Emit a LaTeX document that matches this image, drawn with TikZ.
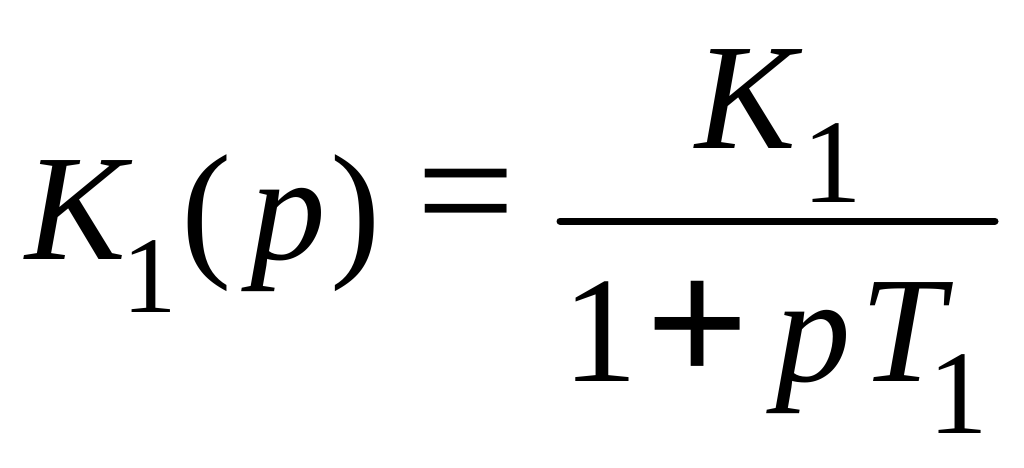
\documentclass[tikz,border=0pt]{standalone}
\usepackage{fontspec}
\setmainfont{Liberation Serif}
\begin{document}
\begin{tikzpicture}[x=1cm,y=1cm,
  big/.style={inner sep=0pt,anchor=base west,font=\fontsize{43}{43}\selectfont},
  bigit/.style={big,font=\fontsize{43}{43}\selectfont\itshape},
  sub/.style={inner sep=0pt,anchor=base west,font=\fontsize{34}{34}\selectfont},
  subsmall/.style={sub,font=\fontsize{31}{31}\selectfont}]
\useasboundingbox (0,0) rectangle (10.24,4.67);
\node[bigit] (K) at (0.25,2.08) {K};
\node[subsmall] (Ks) at (1.22,1.55) {1};
\node[big] (lp) at (1.81,2.08) {(};
\node[bigit] (p) at (2.50,2.08) {p};
\node[big] (rp) at (3.30,2.08) {)};
\node[inner sep=0pt,font=\fontsize{50}{50}\selectfont] (eq) at (4.66,2.58) {=};
\draw[line width=0.07cm,line cap=round] (5.60,2.46) coordinate (b1) -- (9.95,2.46) coordinate (b2);
\node[bigit] (Kn) at (6.95,3.19) {K};
\node[sub] (Kns) at (8.02,2.65) {1};
\node[big] (one) at (5.62,0.86) {1};
\node[inner sep=0pt,font=\fontsize{52}{52}\selectfont\bfseries] (plus) at (6.98,1.34) {+};
\node[bigit] (pd) at (7.75,0.86) {p};
\node[bigit] (T) at (8.60,0.86) {T};
\node[sub] (Ts) at (9.28,0.34) {1};
\end{tikzpicture}
\end{document}
